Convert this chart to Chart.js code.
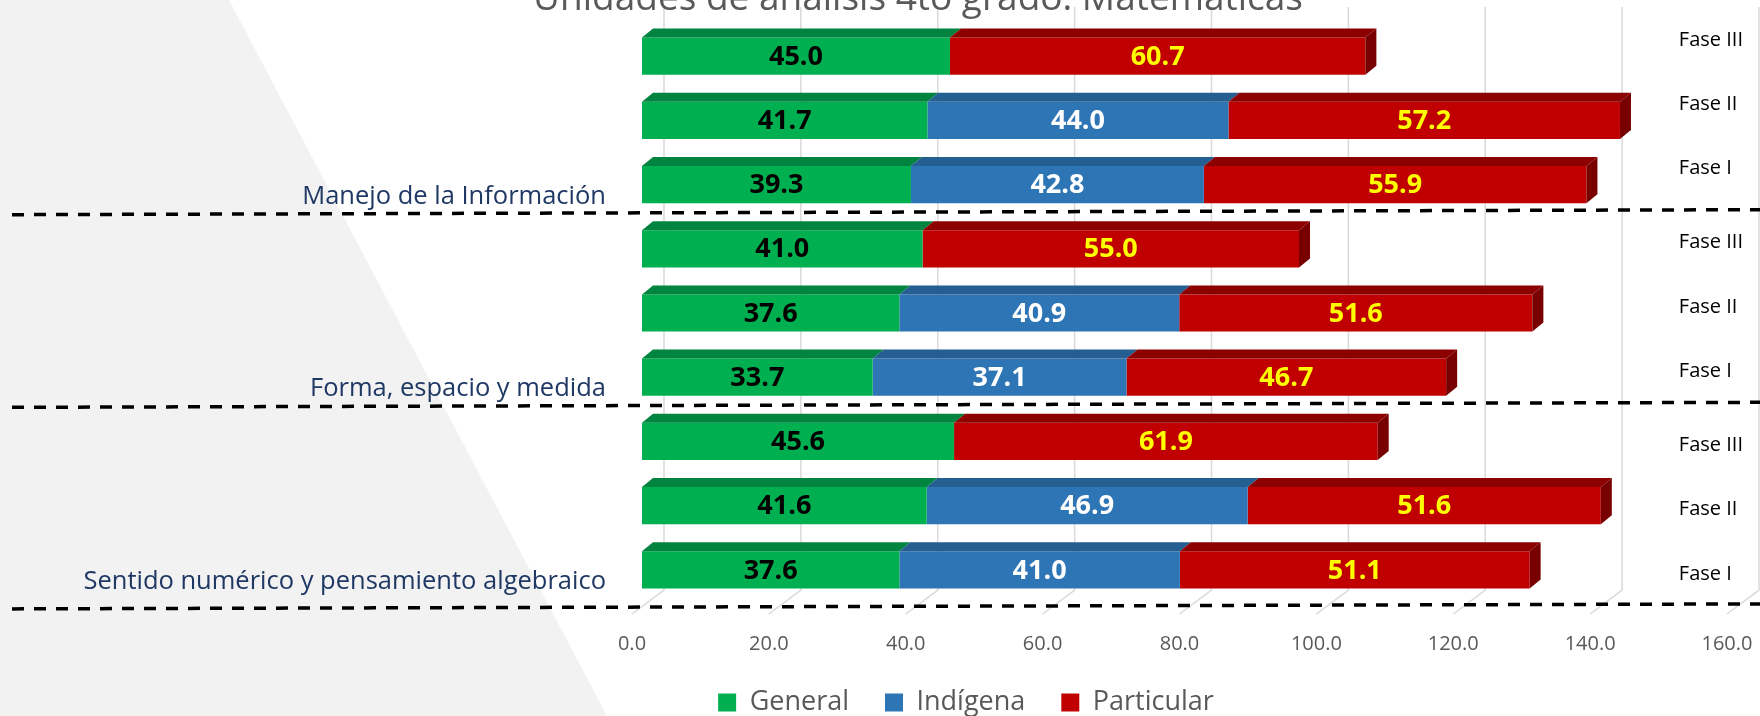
<!DOCTYPE html>
<html>
<head>
<meta charset="utf-8">
<script src="https://cdn.jsdelivr.net/npm/chart.js@4.4.1/dist/chart.umd.min.js"></script>
<style>
	body { margin: 0; background: #fff; }
	#wrap { width: 1760px; height: 716px; position: relative; }
</style>
</head>
<body>
<div id="wrap"><canvas id="myChart"></canvas></div>
<script>
const titleText = "Unidades de análisis 4to grado: Matemáticas";
const categories = ["Fase III", "Fase II", "Fase I", "Fase III", "Fase II", "Fase I", "Fase III", "Fase II", "Fase I"];
const groupNames = ["Manejo de la Información", "Forma, espacio y medida", "Sentido numérico y pensamiento algebraico"];
const groupLast = [2, 5, 8];
const seriesNames = ["General", "Indígena", "Particular"];
const general = [45.0, 41.7, 39.3, 41.0, 37.6, 33.7, 45.6, 41.6, 37.6];
const indigena = [null, 44.0, 42.8, null, 40.9, 37.1, null, 46.9, 41.0];
const particular = [60.7, 57.2, 55.9, 55.0, 51.6, 46.7, 61.9, 51.6, 51.1];
const xMin = 0;
const xMax = 160;
const xStep = 20;

const fillColors = ["#00B050", "#2E75B6", "#C00000"];
const topColors = ["#00843F", "#255E91", "#8C0000"];
const sideColor = "#780000";
const valueColors = ["#000000", "#FFFFFF", "#FFFF00"];
const depthX = 11;
const depthY = 9;
const family = "'Open Sans', sans-serif";

Chart.defaults.font.family = family;

// extra drawing: background, 3D faces, value labels, dashed separators, side texts
const decor = {
	id: "decor",
	beforeDraw(chart) {
		var ctx = chart.ctx;
		ctx.save();
		ctx.fillStyle = "#ffffff";
		ctx.fillRect(0, 0, chart.width, chart.height);
		ctx.fillStyle = "#f2f2f2";
		ctx.beginPath();
		ctx.moveTo(0, 0);
		ctx.lineTo(229, 0);
		ctx.lineTo(607, chart.height);
		ctx.lineTo(0, chart.height);
		ctx.closePath();
		ctx.fill();
		ctx.restore();
	},
	beforeDatasetsDraw(chart) {
		var ctx = chart.ctx;
		var a = chart.chartArea;
		var xs = chart.scales.x;
		ctx.save();
		ctx.strokeStyle = "#d9d9d9";
		ctx.lineWidth = 1.5;
		for (var v = xMin; v <= xMax; v += xStep) {
			var px = xs.getPixelForValue(v);
			ctx.beginPath();
			ctx.moveTo(px + 22, a.top - 17);
			ctx.lineTo(px + 22, a.bottom - 12);
			ctx.lineTo(px - 10, a.bottom + 12);
			ctx.stroke();
		}
		ctx.restore();
	},
	afterDatasetsDraw(chart) {
		var ctx = chart.ctx;
		var n = chart.data.datasets.length;
		ctx.save();
		chart.data.datasets.forEach(function (ds, di) {
			var meta = chart.getDatasetMeta(di);
			meta.data.forEach(function (bar, i) {
				if (ds.data[i] == null) return;
				var p = bar.getProps(["x", "base", "y", "height"], true);
				var l = p.base, r = p.x, top = p.y - p.height / 2, bot = p.y + p.height / 2;
				ctx.fillStyle = topColors[di];
				ctx.beginPath();
				ctx.moveTo(l, top);
				ctx.lineTo(r, top);
				ctx.lineTo(r + depthX, top - depthY);
				ctx.lineTo(l + depthX, top - depthY);
				ctx.closePath();
				ctx.fill();
				if (di === n - 1) {
					ctx.fillStyle = sideColor;
					ctx.beginPath();
					ctx.moveTo(r, top);
					ctx.lineTo(r + depthX, top - depthY);
					ctx.lineTo(r + depthX, bot - depthY);
					ctx.lineTo(r, bot);
					ctx.closePath();
					ctx.fill();
				}
			});
		});
		ctx.font = "bold 27px " + family;
		ctx.textAlign = "center";
		ctx.textBaseline = "middle";
		chart.data.datasets.forEach(function (ds, di) {
			var meta = chart.getDatasetMeta(di);
			meta.data.forEach(function (bar, i) {
				if (ds.data[i] == null) return;
				var p = bar.getProps(["x", "base", "y"], true);
				ctx.fillStyle = valueColors[di];
				ctx.fillText(ds.data[i].toFixed(1), (p.x + p.base) / 2, p.y + 1);
			});
		});
		ctx.restore();
	},
	afterDraw(chart) {
		var ctx = chart.ctx;
		var a = chart.chartArea;
		var ys = chart.scales.y;
		var xs = chart.scales.x;
		ctx.save();
		// title (its top half is cut off in the original)
		ctx.font = "37px " + family;
		ctx.fillStyle = "#595959";
		ctx.textAlign = "center";
		ctx.textBaseline = "alphabetic";
		ctx.fillText(titleText, 918, 10);

		// dashed separators + group names
		for (var g = 0; g < groupLast.length; g++) {
			var k = groupLast[g];
			var ly;
			if (k < categories.length - 1) {
				ly = (ys.getPixelForValue(k) + ys.getPixelForValue(k + 1)) / 2 - 3;
			} else {
				ly = ys.getPixelForValue(k) + 38;
			}
			ctx.strokeStyle = "#000000";
			ctx.lineWidth = 3.5;
			ctx.setLineDash([12, 10]);
			ctx.beginPath();
			ctx.moveTo(12, ly + 1);
			ctx.lineTo(chart.width, ly - 4);
			ctx.stroke();
			ctx.setLineDash([]);

			ctx.font = "25.5px " + family;
			ctx.fillStyle = "#1F3864";
			ctx.textAlign = "right";
			ctx.textBaseline = "alphabetic";
			ctx.fillText(groupNames[g], a.left - 36, ys.getPixelForValue(k) + 19);
		}

		// phase names on the right
		ctx.font = "20px " + family;
		ctx.fillStyle = "#000000";
		ctx.textAlign = "left";
		ctx.textBaseline = "middle";
		var fx = xs.getPixelForValue(151.5);
		categories.forEach(function (c, i) {
			var g = Math.floor(i / 3);
			ctx.fillText(c, fx, ys.getPixelForValue(i) - 16 + 10 * g);
		});
		ctx.restore();
	}
};

var ctx = document.getElementById("myChart").getContext("2d");
var myChart = new Chart(ctx, {
	type: "bar",
	data: {
		labels: categories,
		datasets: [
			{ label: seriesNames[0], data: general, backgroundColor: fillColors[0] },
			{ label: seriesNames[1], data: indigena, backgroundColor: fillColors[1] },
			{ label: seriesNames[2], data: particular, backgroundColor: fillColors[2] },
		],
	},
	options: {
		indexAxis: "y",
		responsive: true,
		maintainAspectRatio: false,
		animation: false,
		layout: { padding: { left: 195, right: 23, top: 24, bottom: -10 } },
		datasets: { bar: { categoryPercentage: 0.58, barPercentage: 1, borderWidth: 0 } },
		scales: {
			x: {
				stacked: true,
				min: xMin,
				max: xMax,
				ticks: {
					stepSize: xStep,
					callback: function (v) { return Number(v).toFixed(1); },
					labelOffset: -10,
					padding: 30,
					color: "#595959",
					font: { size: 20 },
				},
				grid: { display: false, drawTicks: false },
				border: { display: false },
				afterFit: function (s) {
					s.height = 51;
					s.paddingLeft = 0;
					s.paddingRight = 0;
				},
			},
			y: {
				stacked: true,
				ticks: { display: false },
				grid: { display: false, drawTicks: false },
				border: { display: false },
				afterFit: function (s) { s.width = 447; },
			},
		},
		plugins: {
			legend: {
				position: "bottom",
				maxHeight: 73,
				labels: {
					boxWidth: 18,
					boxHeight: 18,
					padding: 36,
					color: "#595959",
					font: { size: 27 },
				},
			},
			tooltip: { enabled: false },
		},
	},
	plugins: [decor],
});
</script>
</body>
</html>
